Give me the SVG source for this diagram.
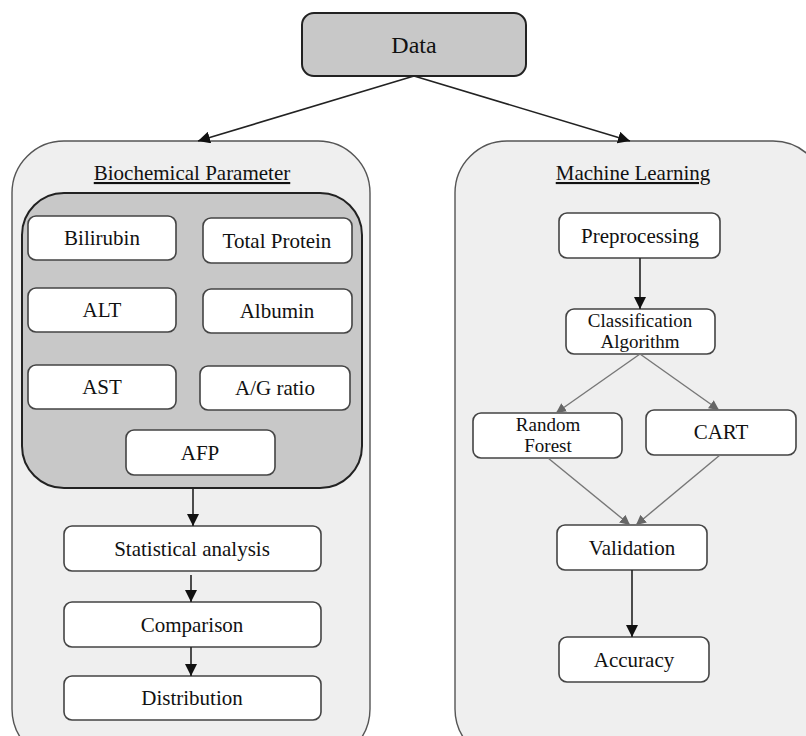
<svg xmlns="http://www.w3.org/2000/svg" width="806" height="736" viewBox="0 0 806 736">
  <style>
    text { font-family: "Liberation Serif", "Times New Roman", serif; fill: #111; text-anchor: middle; }
    .lbl { font-size: 21px; }
    .lbl2 { font-size: 19px; }
    .ttl { font-size: 21px; text-decoration: underline; }
    .box { fill: #ffffff; stroke: #444; stroke-width: 1.6; }
    .panel { fill: #efefef; stroke: #555; stroke-width: 1.4; }
    .edge { stroke: #222; stroke-width: 1.6; fill: none; }
    .edge-g { stroke: #777; stroke-width: 1.4; fill: none; }
  </style>
  <defs>
    <marker id="ahg" viewBox="0 0 10 10" refX="10" refY="5" markerWidth="10" markerHeight="10" markerUnits="userSpaceOnUse" orient="auto">
      <path d="M0,0 L10,5 L0,10 Z" fill="#666"/>
    </marker>
    <marker id="ahb" viewBox="0 0 10 10" refX="10" refY="5" markerWidth="12" markerHeight="12" markerUnits="userSpaceOnUse" orient="auto">
      <path d="M0,0 L10,5 L0,10 Z" fill="#111"/>
    </marker>
  </defs>

  <!-- top source node -->
  <g id="data">
    <rect x="302" y="13" width="224" height="63" rx="12" fill="#c8c8c8" stroke="#222" stroke-width="2"/>
    <text class="lbl" x="414" y="53" style="font-size:24px">Data</text>
  </g>

  <!-- left panel -->
  <g id="biochemical">
    <rect class="panel" x="12" y="141" width="358" height="620" rx="52"/>
    <text class="ttl" x="192" y="180">Biochemical Parameter</text>
    <rect x="22" y="193" width="340" height="295" rx="42" fill="#c8c8c8" stroke="#222" stroke-width="2"/>
  </g>
  <g id="bilirubin"><rect class="box" x="28" y="216" width="148" height="44" rx="8"/><text class="lbl" x="102" y="245">Bilirubin</text></g>
  <g id="total-protein"><rect class="box" x="203" y="218" width="149" height="45" rx="8"/><text class="lbl" x="277" y="248">Total Protein</text></g>
  <g id="alt"><rect class="box" x="28" y="288" width="148" height="44" rx="8"/><text class="lbl" x="102" y="317">ALT</text></g>
  <g id="albumin"><rect class="box" x="203" y="289" width="149" height="44" rx="8"/><text class="lbl" x="277" y="318">Albumin</text></g>
  <g id="ast"><rect class="box" x="28" y="365" width="148" height="44" rx="8"/><text class="lbl" x="102" y="394">AST</text></g>
  <g id="ag-ratio"><rect class="box" x="200" y="366" width="150" height="44" rx="8"/><text class="lbl" x="275" y="395">A/G ratio</text></g>
  <g id="afp"><rect class="box" x="126" y="430" width="149" height="45" rx="8"/><text class="lbl" x="200" y="460">AFP</text></g>
  <g id="statistical"><rect class="box" x="64" y="526" width="257" height="45" rx="8"/><text class="lbl" x="192" y="556">Statistical analysis</text></g>
  <g id="comparison"><rect class="box" x="64" y="602" width="257" height="45" rx="8"/><text class="lbl" x="192" y="632">Comparison</text></g>
  <g id="distribution"><rect class="box" x="64" y="676" width="257" height="44" rx="8"/><text class="lbl" x="192" y="705">Distribution</text></g>

  <!-- right panel -->
  <g id="machine-learning">
    <rect class="panel" x="455" y="141" width="370" height="620" rx="52"/>
    <text class="ttl" x="633" y="180">Machine Learning</text>
  </g>
  <g id="preprocessing"><rect class="box" x="559" y="213" width="161" height="45" rx="8"/><text class="lbl" x="640" y="243">Preprocessing</text></g>
  <g id="classification"><rect class="box" x="566" y="309" width="149" height="45" rx="8"/><text class="lbl2"><tspan x="640" y="327">Classification</tspan><tspan x="640" y="348">Algorithm</tspan></text></g>
  <g id="random-forest"><rect class="box" x="473" y="413" width="149" height="45" rx="8"/><text class="lbl2"><tspan x="548" y="431">Random</tspan><tspan x="548" y="452">Forest</tspan></text></g>
  <g id="cart"><rect class="box" x="646" y="410" width="150" height="45" rx="8"/><text class="lbl" x="721" y="439">CART</text></g>
  <g id="validation"><rect class="box" x="557" y="525" width="150" height="45" rx="8"/><text class="lbl" x="632" y="555">Validation</text></g>
  <g id="accuracy"><rect class="box" x="559" y="637" width="150" height="45" rx="8"/><text class="lbl" x="634" y="667">Accuracy</text></g>

  <!-- connectors -->
  <g id="connectors">
    <line class="edge" x1="414" y1="76" x2="198" y2="141" marker-end="url(#ahb)"/>
    <line class="edge" x1="414" y1="76" x2="630" y2="141" marker-end="url(#ahb)"/>
    <line class="edge" x1="193" y1="488" x2="193" y2="526" marker-end="url(#ahb)"/>
    <line class="edge" x1="191" y1="575" x2="191" y2="602" marker-end="url(#ahb)"/>
    <line class="edge" x1="191" y1="647" x2="191" y2="676" marker-end="url(#ahb)"/>
    <line class="edge" x1="640" y1="258" x2="640" y2="309" marker-end="url(#ahb)"/>
    <line class="edge-g" x1="640" y1="354" x2="556" y2="413" marker-end="url(#ahg)"/>
    <line class="edge-g" x1="640" y1="354" x2="719" y2="410" marker-end="url(#ahg)"/>
    <line class="edge-g" x1="548" y1="458" x2="630" y2="525" marker-end="url(#ahg)"/>
    <line class="edge-g" x1="720" y1="455" x2="636" y2="525" marker-end="url(#ahg)"/>
    <line class="edge" x1="632" y1="570" x2="632" y2="637" marker-end="url(#ahb)"/>
  </g>
</svg>
